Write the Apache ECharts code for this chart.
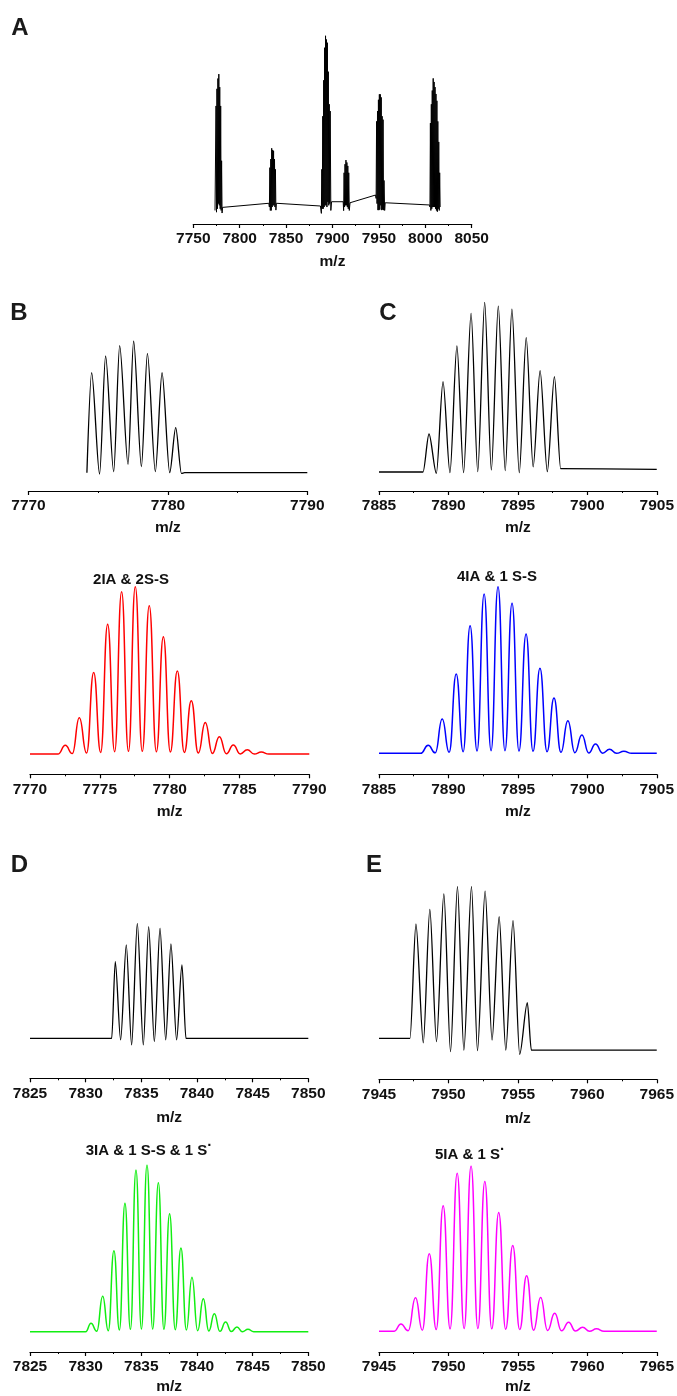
<!DOCTYPE html>
<html><head><meta charset="utf-8">
<script src="https://cdn.jsdelivr.net/npm/echarts@6/dist/echarts.min.js"></script>
<style>html,body{margin:0;padding:0;background:#fff}#c{width:677px;height:1396px}</style>
</head><body><div id="c"></div>
<script>
// ---------------- DATA (m/z, relative intensity) ----------------
const ticksA = [7750, 7800, 7850, 7900, 7950, 8000, 8050];
const ticksB1 = [7770, 7780, 7790];
const ticksB2 = [7770, 7775, 7780, 7785, 7790];
const ticksC = [7885, 7890, 7895, 7900, 7905];
const ticksD = [7825, 7830, 7835, 7840, 7845, 7850];
const ticksE = [7945, 7950, 7955, 7960, 7965];

const spectrumA = [
 [7773.4,-2],[7774.5,59],[7775.0,-3],[7775.5,69],[7776.0,-1],[7776.5,75],[7777.0,2],[7777.5,77.6],[7778.0,1],[7778.5,70],[7779.0,-1],[7779.5,59],[7780.0,-2],[7780.5,27],[7781.0,-3.5],[7781.5,-0.2],
 [7831.4,2.2],
 [7832.0,0],[7832.5,23],[7833.0,-2],[7833.5,28],[7834.0,-2],[7834.5,34.3],[7835.0,0],[7835.5,33.3],[7836.0,1],[7836.5,32.8],[7837.0,1],[7837.5,28],[7838.0,0],[7838.5,22],[7839.0,-1.8],[7839.5,2.2],
 [7887.0,0.6],
 [7888.0,-3.7],[7888.5,22],[7889.0,-1],[7889.5,53],[7890.0,-1],[7890.5,74],[7891.0,0],[7891.5,93],[7892.0,1],[7892.5,100],[7893.0,1],[7893.5,97.8],[7894.0,0],[7894.5,95.9],[7895.0,3],[7895.5,79],[7896.0,1],[7896.5,60],[7897.0,2],[7897.5,56],[7898.2,-2],[7899.0,3.1],
 [7911.5,3.1],
 [7912.0,-2.1],[7912.5,20],[7913.0,0],[7913.5,25],[7914.0,1],[7914.5,27.4],[7915.0,1],[7915.5,26],[7916.0,0],[7916.5,24],[7917.0,-1],[7917.5,20],[7918.1,-2],[7918.9,2.5],
 [7946.4,7.0],
 [7947.0,5],[7947.5,50],[7948.0,2],[7948.5,56],[7949.0,-1.8],[7949.5,62.6],[7950.0,-1.8],[7950.5,65.8],[7951.0,-1.5],[7951.5,65.8],[7952.0,1],[7952.5,64],[7953.0,-1.8],[7953.5,53],[7954.0,-1.5],[7954.5,51],[7955.0,-1.8],[7955.5,15.5],[7956.2,-2],[7956.8,2.5],
 [8004.6,1.2],
 [8005.0,0],[8005.5,49],[8006.0,-2],[8006.5,60],[8007.0,-1],[8007.5,68],[8008.0,0],[8008.5,75.1],[8009.0,0],[8009.5,73],[8010.0,0],[8010.5,70],[8011.0,-1],[8011.5,66],[8012.0,-2],[8012.5,62],[8013.0,-2.7],[8013.5,50],[8014.0,-1],[8014.5,38],[8015.0,-2],[8015.5,20],[8016.0,0]
];

const spectrumB = [[7774.19,0],[7774.53,75.9],[7775.10,-1],[7775.53,88.6],[7776.11,0.8],[7776.54,96.5],[7777.14,6.3],[7777.54,100],[7778.10,4.6],[7778.53,90.6],[7779.10,0.8],[7779.58,75.9],[7780.13,0],[7780.56,34.2],[7780.97,-0.5],[7781.2,0],[7790,0]];

const spectrumC = [[7885,0],[7888.17,0],[7888.60,22.4],[7889.13,-0.8],[7889.61,53.2],[7890.11,-0.4],[7890.61,74.3],[7891.09,-0.4],[7891.63,93.5],[7892.11,0.2],[7892.61,100],[7893.09,1.2],[7893.59,97.8],[7894.09,0.8],[7894.57,95.9],[7895.10,-0.4],[7895.60,79.2],[7896.10,3.1],[7896.60,59.7],[7897.12,0.2],[7897.63,56.2],[7898.08,2.0],[7905,1.6]];

const spectrumD = [[7825,0],[7832.34,0],[7832.66,66.7],[7833.14,-1.4],[7833.65,81.2],[7834.13,-5.8],[7834.64,100],[7835.18,-5.8],[7835.66,97.1],[7836.17,-2.9],[7836.68,95.7],[7837.19,-1.4],[7837.66,82],[7838.17,-1.4],[7838.65,63.8],[7839.01,0],[7850,0]];

const spectrumE = [[7945,0],[7947.23,0],[7947.66,75.4],[7948.19,-2.9],[7948.66,85.1],[7949.14,-2.2],[7949.67,95.2],[7950.15,-8.8],[7950.65,100],[7951.11,-7.7],[7951.66,100],[7952.09,-8.1],[7952.64,97.1],[7953.14,-1.1],[7953.65,80.2],[7954.13,-7.7],[7954.65,77.6],[7955.13,-10.5],[7955.68,23.5],[7955.97,-7.7],[7965,-7.7]];

const simB = [[7770,0],[7772.0,0],[7772.53,5.2],[7773.03,0.3],[7773.53,21.7],[7774.05,0.6],[7774.56,48.8],[7775.06,1.0],[7775.56,77.5],[7776.06,1.4],[7776.56,97.0],[7777.05,1.6],[7777.54,100],[7778.04,1.6],[7778.54,88.6],[7779.05,1.4],[7779.55,70.1],[7780.05,1.2],[7780.55,49.6],[7781.05,1.0],[7781.55,31.9],[7782.05,0.6],[7782.55,18.9],[7783.06,0.4],[7783.56,10.4],[7784.06,0.2],[7784.56,5.4],[7785.06,0.1],[7785.56,2.6],[7786.06,0],[7786.56,1.2],[7787.1,0],[7790,0]];

const simC = [[7885,0],[7888.0,0],[7888.54,4.8],[7889.05,0.3],[7889.55,20.6],[7890.05,0.6],[7890.56,47.6],[7891.06,1.0],[7891.56,76.6],[7892.06,1.4],[7892.57,95.6],[7893.07,1.6],[7893.57,100],[7894.07,1.6],[7894.58,90],[7895.08,1.4],[7895.59,71.6],[7896.09,1.2],[7896.59,51],[7897.1,1.0],[7897.6,33.2],[7898.1,0.6],[7898.6,19.6],[7899.1,0.4],[7899.61,11],[7900.1,0.2],[7900.59,5.6],[7901.1,0.1],[7901.6,2.4],[7902.1,0],[7902.63,1.2],[7903.2,0],[7905,0]];

const simD = [[7825,0],[7830.0,0],[7830.48,5.0],[7831.0,0.3],[7831.53,21.3],[7832.03,0.6],[7832.54,48.6],[7833.03,1.0],[7833.53,77.1],[7834.02,1.4],[7834.52,97],[7835.01,1.6],[7835.51,100],[7836.02,1.6],[7836.53,89.4],[7837.03,1.4],[7837.54,70.7],[7838.05,1.2],[7838.56,50.2],[7839.05,1.0],[7839.55,32.7],[7840.06,0.6],[7840.57,19.7],[7841.06,0.4],[7841.56,10.8],[7842.06,0.2],[7842.57,5.8],[7843.08,0.1],[7843.59,2.8],[7844.08,0],[7844.58,1.4],[7845.1,0],[7850,0]];

const simE = [[7945,0],[7946.1,0],[7946.58,4.4],[7947.1,0.3],[7947.63,20.2],[7948.12,0.6],[7948.62,46.9],[7949.12,1.0],[7949.62,76],[7950.12,1.4],[7950.63,95.6],[7951.13,1.6],[7951.63,100],[7952.12,1.6],[7952.62,90.6],[7953.12,1.4],[7953.62,71.9],[7954.12,1.2],[7954.63,51.9],[7955.13,1.0],[7955.63,33.5],[7956.13,0.6],[7956.64,20.4],[7957.14,0.4],[7957.65,10.8],[7958.15,0.2],[7958.65,5.4],[7959.15,0.1],[7959.66,2.4],[7960.16,0],[7960.66,1.4],[7961.2,0],[7965,0]];

// ---------------- LAYOUT ----------------
const FONT = '"Liberation Sans", Arial, Helvetica, sans-serif';
const panels = [
  {data: spectrumA, ticks: ticksA, color: '#000', left: 193.3, right: 471.7, top: 35.7, axisY: 224, yMin: -9.9, smooth: false, lw: 1, gap: 30},
  {data: spectrumB, ticks: ticksB1, color: '#000', left: 28.5, right: 307.3, top: 341, axisY: 491, yMin: -13.9, smooth: 0.3, lw: 1.3, gap: 29},
  {data: spectrumC, ticks: ticksC, color: '#000', left: 379, right: 658.3, top: 302.3, axisY: 491, yMin: -11.2, smooth: 0.3, lw: 1.3, gap: 29},
  {data: simB, ticks: ticksB2, color: '#ff0000', left: 30, right: 309.3, top: 586.7, axisY: 774.3, yMin: -12.1, smooth: 0.5, lw: 1.5, gap: 29},
  {data: simC, ticks: ticksC, color: '#0000ff', left: 379, right: 657.3, top: 586.7, axisY: 774.3, yMin: -12.6, smooth: 0.5, lw: 1.5, gap: 29},
  {data: spectrumD, ticks: ticksD, color: '#000', left: 30, right: 308.3, top: 923.3, axisY: 1078.3, yMin: -34.8, smooth: 0.3, lw: 1.3, gap: 31},
  {data: spectrumE, ticks: ticksE, color: '#000', left: 379, right: 657.3, top: 886.7, axisY: 1079.3, yMin: -27.0, smooth: 0.3, lw: 1.3, gap: 31},
  {data: simD, ticks: ticksD, color: '#11ee11', left: 30, right: 308.3, top: 1165, axisY: 1352.7, yMin: -12.2, smooth: 0.5, lw: 1.5, gap: 27},
  {data: simE, ticks: ticksE, color: '#ff00ff', left: 379, right: 657.3, top: 1166, axisY: 1353.3, yMin: -12.6, smooth: 0.5, lw: 1.5, gap: 27}
];

const grids = [], xAxes = [], yAxes = [], series = [];
panels.forEach((p, i) => {
  grids.push({left: p.left, top: p.top, width: p.right - p.left, height: p.axisY - p.top, containLabel: false});
  xAxes.push({
    type: 'value', gridIndex: i,
    min: p.ticks[0], max: p.ticks[p.ticks.length - 1], interval: p.ticks[1] - p.ticks[0],
    name: 'm/z', nameLocation: 'middle', nameGap: p.gap,
    nameTextStyle: {fontFamily: FONT, fontWeight: 'bold', fontSize: 15.5, color: '#111'},
    axisLine: {show: true, onZero: false, lineStyle: {color: '#000', width: 1.2}},
    axisTick: {show: true, inside: false, length: 4, lineStyle: {color: '#000', width: 1.2}},
    minorTick: {show: true, splitNumber: 2, length: 2, lineStyle: {color: '#000', width: 1}},
    splitLine: {show: false}, minorSplitLine: {show: false},
    axisLabel: {fontFamily: FONT, fontWeight: 'bold', fontSize: 15.5, color: '#111', margin: 7,
      showMinLabel: true, showMaxLabel: true, formatter: v => String(v)}
  });
  yAxes.push({type: 'value', gridIndex: i, min: p.yMin, max: 100, show: false, splitLine: {show: false}});
  series.push({
    type: 'line', xAxisIndex: i, yAxisIndex: i, data: p.data,
    showSymbol: false, symbol: 'none', smooth: p.smooth, smoothMonotone: p.smooth ? 'x' : undefined,
    lineStyle: {color: p.color, width: p.lw}, animation: false, silent: true
  });
});

// panel letters
const letters = [['A', 20, 28], ['B', 19, 313], ['C', 388, 313], ['D', 19.5, 865], ['E', 374, 865.5]];
// sub-titles: [text, superscript-dot?, centerX, centerY]
const subtitles = [['2IA & 2S-S', false, 131, 580], ['4IA & 1 S-S', false, 497, 576.5], ['3IA & 1 S-S & 1 S', true, 149, 1151], ['5IA & 1 S', true, 470, 1155]];

const graphic = [];
letters.forEach(l => graphic.push({type: 'text', x: l[1], y: l[2], silent: true,
  style: {text: l[0], fontFamily: FONT, fontWeight: 'bold', fontSize: 24, fill: '#1a1a1a', textAlign: 'center', textVerticalAlign: 'middle'}}));

const mctx = document.createElement('canvas').getContext('2d');
mctx.font = 'bold 15px ' + FONT;
subtitles.forEach(s => {
  const w = mctx.measureText(s[0]).width;
  const dw = s[1] ? mctx.measureText('·').width : 0;
  const x0 = s[2] - (w + dw) / 2;
  graphic.push({type: 'text', x: x0, y: s[3], silent: true,
    style: {text: s[0], fontFamily: FONT, fontWeight: 'bold', fontSize: 15, fill: '#111', textAlign: 'left', textVerticalAlign: 'middle'}});
  if (s[1]) graphic.push({type: 'text', x: x0 + w, y: s[3] - 5, silent: true,
    style: {text: '·', fontFamily: FONT, fontWeight: 'bold', fontSize: 15, fill: '#111', textAlign: 'left', textVerticalAlign: 'middle'}});
});

const chart = echarts.init(document.getElementById('c'), null, {renderer: 'canvas', width: 677, height: 1396});
chart.setOption({
  backgroundColor: '#fff', animation: false,
  grid: grids, xAxis: xAxes, yAxis: yAxes, series: series,
  graphic: graphic
});
</script></body></html>
